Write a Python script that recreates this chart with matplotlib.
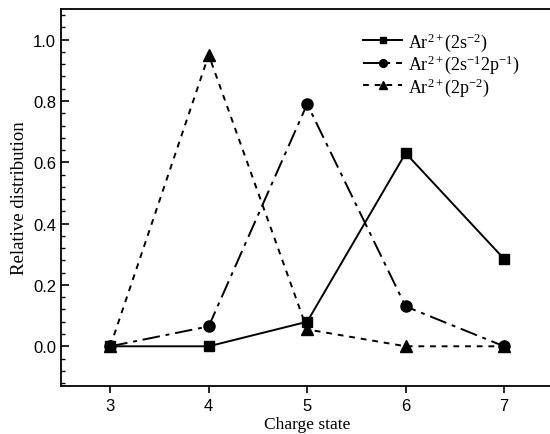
import matplotlib
matplotlib.use("Agg")
import matplotlib.pyplot as plt
from matplotlib.ticker import MultipleLocator

# Charge state distribution for the three Ar2+ hole configurations
charge = [3, 4, 5, 6, 7]
ar_2s2 = [0.0, 0.0, 0.08, 0.63, 0.285]
ar_2s2p = [0.0, 0.065, 0.79, 0.13, 0.0]
ar_2p2 = [0.0, 0.95, 0.055, 0.0, 0.0]

labels = [r'Ar$^{2+}$(2s$^{-2}$)',
          r'Ar$^{2+}$(2s$^{-1}$2p$^{-1}$)',
          r'Ar$^{2+}$(2p$^{-2}$)']

plt.rcParams['mathtext.fontset'] = 'custom'
plt.rcParams['mathtext.rm'] = 'Liberation Serif'
plt.rcParams['mathtext.it'] = 'Liberation Serif:italic'

fig = plt.figure(figsize=(5.5, 4.35), dpi=100)
ax = fig.add_axes([0.111, 0.110, 0.895, 0.867])

ax.plot(charge, ar_2s2, color='black', lw=1.4, ls='-', marker='s', ms=7, label=labels[0])
ax.plot(charge, ar_2s2p, color='black', lw=1.4, ls=(0, (9, 3, 2, 3)), marker='o', ms=8, label=labels[1])
ax.plot(charge, ar_2p2, color='black', lw=1.4, ls=(0, (3, 3)), marker='^', ms=8, label=labels[2])

ax.set_xlim(2.5, 7.5)
ax.set_ylim(-0.13, 1.1)
ax.set_xticks(charge)
ax.yaxis.set_major_locator(MultipleLocator(0.2))
ax.yaxis.set_minor_locator(MultipleLocator(0.04))
ax.tick_params(axis='y', which='major', direction='in', length=6, width=1.2)
ax.tick_params(axis='y', which='minor', direction='in', length=3, width=1.0)
ax.tick_params(axis='x', direction='out', length=5, width=1.2)
ax.tick_params(labelsize=12)
for t in ax.get_xticklabels() + ax.get_yticklabels():
    t.set_family('Liberation Sans')

ax.spines['right'].set_visible(False)
for s in ['left', 'bottom', 'top']:
    ax.spines[s].set_linewidth(1.3)

ax.set_xlabel('Charge state', family='Liberation Serif', fontsize=12.5, labelpad=2)
ax.set_ylabel('Relative distribution', family='Liberation Serif', fontsize=13.5, labelpad=4)

leg = ax.legend(loc='upper right', bbox_to_anchor=(0.965, 0.987), frameon=False,
                prop={'family': 'Liberation Serif', 'size': 13},
                handlelength=2.2, handletextpad=0.3, labelspacing=0.0,
                markerscale=0.7)

fig.savefig('out.png', dpi=100)
